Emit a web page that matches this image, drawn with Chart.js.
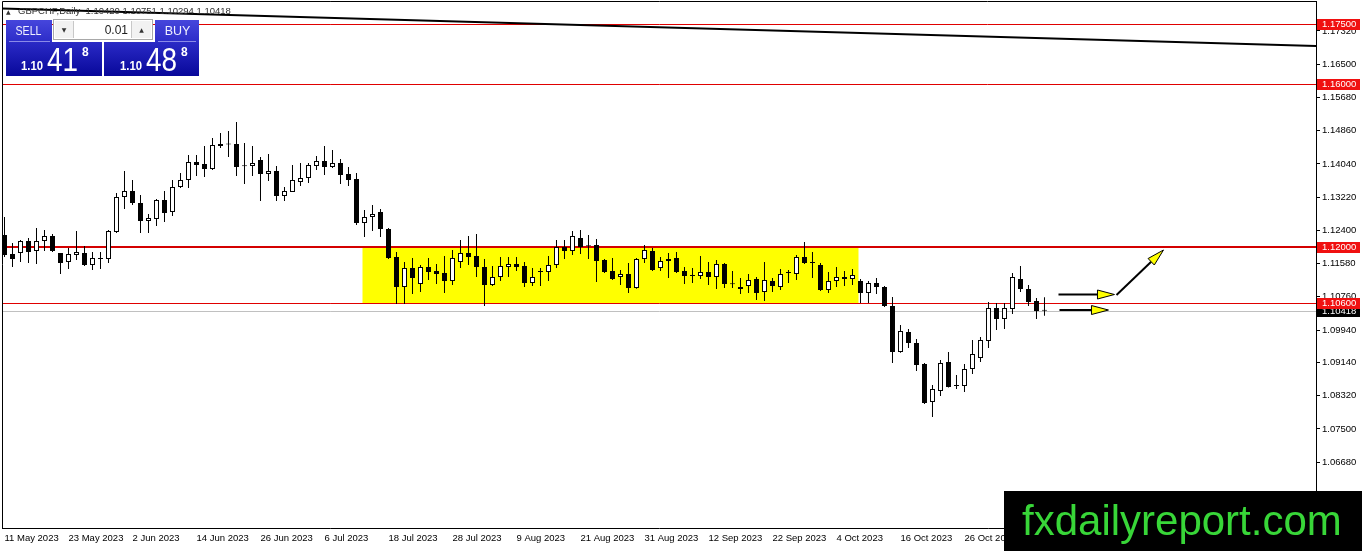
<!DOCTYPE html>
<html><head><meta charset="utf-8">
<script src="https://cdn.jsdelivr.net/npm/chart.js@4.4.0/dist/chart.umd.min.js"></script>
<style>html,body{margin:0;padding:0;background:#fff;overflow:hidden}#wrap{position:relative;width:1362px;height:551px}canvas{display:block}</style>
</head><body><div id="wrap"><canvas id="c" width="1362" height="551"></canvas></div>
<script>
const symbolTitle = 'GBPCHF,Daily';
const startDate = '2023-05-11';
const tickLabels = ['11 May 2023','23 May 2023','2 Jun 2023','14 Jun 2023','26 Jun 2023','6 Jul 2023','18 Jul 2023','28 Jul 2023','9 Aug 2023','21 Aug 2023','31 Aug 2023','12 Sep 2023','22 Sep 2023','4 Oct 2023','16 Oct 2023','26 Oct 2023'];
const priceTicks = [1.1732,1.165,1.1568,1.1486,1.1404,1.1322,1.124,1.1158,1.1076,1.0994,1.0914,1.0832,1.075,1.0668];
const opens = [1.12286,1.11816,1.11841,1.12137,1.11890,1.12137,1.12261,1.11841,1.11619,1.11792,
1.11841,1.11545,1.11693,1.11693,1.12360,1.13223,1.13371,1.13075,1.12631,1.12680,
1.13149,1.12853,1.13470,1.13643,1.14088,1.14038,1.13915,1.14482,1.14531,1.14531,
1.13989,1.13989,1.14137,1.13791,1.13865,1.13248,1.13347,1.13594,1.13693,1.13989,
1.14112,1.13964,1.14063,1.13791,1.13668,1.12582,1.12729,1.12853,1.12434,1.11742,
1.11002,1.11471,1.11076,1.11495,1.11397,1.11348,1.11150,1.11619,1.11841,1.11767,
1.11495,1.11051,1.11249,1.11495,1.11569,1.11520,1.11100,1.11373,1.11373,1.11545,
1.11989,1.11890,1.12212,1.12014,1.12038,1.11668,1.11397,1.11249,1.11323,1.10977,
1.11693,1.11890,1.11471,1.11644,1.11718,1.11397,1.11298,1.11274,1.11373,1.11249,
1.11569,1.11076,1.10953,1.11026,1.11200,1.10879,1.11150,1.11002,1.11348,1.11323,
1.11742,1.11619,1.11545,1.10928,1.11150,1.11249,1.11200,1.11150,1.10854,1.11100,
1.11002,1.10533,1.09398,1.09892,1.09620,1.09101,1.08164,1.08435,1.09151,1.08558,
1.08558,1.08978,1.09249,1.09669,1.10483,1.10212,1.10459,1.11200,1.10953,1.10656,
1.10420];
const highs = [1.12729,1.12088,1.12162,1.12212,1.12459,1.12409,1.12310,1.11841,1.11965,1.12384,
1.12014,1.11866,1.11866,1.12409,1.13322,1.13865,1.13643,1.13273,1.12803,1.13174,
1.13371,1.13643,1.13816,1.14260,1.14260,1.14482,1.14680,1.14803,1.14852,1.15075,
1.14556,1.14482,1.14210,1.14284,1.13989,1.13470,1.14014,1.14063,1.14063,1.14235,
1.14482,1.14383,1.14161,1.13964,1.13816,1.12902,1.13026,1.12927,1.12459,1.11866,
1.11619,1.11718,1.11545,1.11718,1.11569,1.11767,1.11915,1.12162,1.12261,1.12310,
1.11693,1.11520,1.11742,1.11742,1.11742,1.11619,1.11471,1.11471,1.11767,1.12162,
1.12162,1.12384,1.12409,1.12286,1.12187,1.11693,1.11718,1.11422,1.11594,1.11718,
1.12038,1.11965,1.11742,1.11841,1.11866,1.11495,1.11471,1.11767,1.11619,1.11668,
1.11594,1.11397,1.11225,1.11323,1.11249,1.11619,1.11225,1.11446,1.11422,1.11792,
1.12113,1.11866,1.11594,1.11373,1.11495,1.11397,1.11446,1.11200,1.11150,1.11225,
1.11026,1.10755,1.10064,1.09966,1.09719,1.09126,1.08583,1.09200,1.09397,1.08830,
1.09101,1.09694,1.09768,1.10632,1.10607,1.10607,1.11348,1.11520,1.11051,1.10730,
1.10751];
const lows = [1.11742,1.11495,1.11619,1.11594,1.11569,1.11890,1.11866,1.11323,1.11446,1.11668,
1.11520,1.11422,1.11446,1.11594,1.12335,1.12927,1.13026,1.12335,1.12335,1.12508,
1.12607,1.12754,1.13445,1.13445,1.13742,1.13717,1.13890,1.14433,1.14210,1.13742,
1.13544,1.13742,1.13124,1.13618,1.13124,1.13124,1.13347,1.13495,1.13569,1.13890,
1.13767,1.13939,1.13544,1.13495,1.12533,1.12236,1.12384,1.12236,1.11693,1.10582,
1.10582,1.10829,1.10879,1.11175,1.11076,1.10854,1.11051,1.11471,1.11545,1.11249,
1.10533,1.11026,1.11150,1.11249,1.11397,1.11002,1.11026,1.11026,1.11150,1.11471,
1.11693,1.11792,1.11816,1.11693,1.11126,1.11348,1.11175,1.11051,1.10854,1.10960,
1.11594,1.11397,1.11397,1.11225,1.11348,1.11076,1.11100,1.11200,1.11051,1.10953,
1.10977,1.10977,1.10829,1.10854,1.10681,1.10656,1.10879,1.10928,1.11100,1.11175,
1.11569,1.11225,1.10903,1.10854,1.11002,1.11026,1.11051,1.10607,1.10607,1.10829,
1.10508,1.09126,1.09380,1.09497,1.08929,1.08114,1.07793,1.08312,1.08520,1.08484,
1.08411,1.08854,1.09151,1.09496,1.09941,1.09966,1.10335,1.10879,1.10533,1.10212,
1.10294];
const closes = [1.11792,1.11693,1.12137,1.11866,1.12137,1.12261,1.11890,1.11594,1.11816,1.11866,
1.11545,1.11718,1.11700,1.12384,1.13223,1.13371,1.13075,1.12631,1.12705,1.13149,
1.12828,1.13470,1.13643,1.14088,1.14014,1.13915,1.14507,1.14531,1.14520,1.13964,
1.13980,1.14063,1.13791,1.13865,1.13248,1.13371,1.13643,1.13693,1.14014,1.14112,
1.13964,1.14063,1.13767,1.13643,1.12582,1.12729,1.12803,1.12434,1.11718,1.11002,
1.11471,1.11225,1.11495,1.11373,1.11323,1.11150,1.11718,1.11841,1.11742,1.11495,
1.11051,1.11249,1.11520,1.11569,1.11495,1.11100,1.11249,1.11380,1.11545,1.11989,
1.11890,1.12261,1.11989,1.12005,1.11644,1.11373,1.11200,1.11323,1.10977,1.11693,
1.11915,1.11422,1.11644,1.11693,1.11373,1.11274,1.11274,1.11373,1.11249,1.11569,
1.11076,1.11070,1.11002,1.11175,1.10854,1.11175,1.11026,1.11323,1.11355,1.11742,
1.11594,1.11594,1.10928,1.11150,1.11249,1.11200,1.11298,1.10854,1.11100,1.11002,
1.10533,1.09398,1.09916,1.09620,1.09077,1.08139,1.08484,1.09126,1.08534,1.08565,
1.08978,1.09348,1.09694,1.10483,1.10212,1.10483,1.11249,1.10953,1.10632,1.10409,
1.10418];
const levelPrices = [1.175, 1.16, 1.12, 1.106];
const zone = {fromBar: 44.75, toBar: 106.75, top: 1.12, bottom: 1.106};
const trend = {bar0: -0.5, price0: 1.17875, bar1: 164, price1: 1.16947};
const arrows = [
  {bar0: 131.75, p0: 1.10817, bar1: 138.75, p1: 1.10817},
  {bar0: 139, p0: 1.10805, bar1: 144.875, p1: 1.11915},
  {bar0: 131.875, p0: 1.10434, bar1: 138, p1: 1.10434}
];
const sellPrice = {big: '1.10', pips: '41', frac: '8'};
const buyPrice = {big: '1.10', pips: '48', frac: '8'};
const lotSize = '0.01';
const watermark = 'fxdailyreport.com';

// categories: trading days from start
const months = ['Jan','Feb','Mar','Apr','May','Jun','Jul','Aug','Sep','Oct','Nov','Dec'];
const categories = [];
{
  const d = new Date(startDate + 'T12:00:00');
  while (categories.length < closes.length) {
    const wd = d.getDay();
    if (wd !== 0 && wd !== 6) categories.push(d.getDate() + ' ' + months[d.getMonth()] + ' ' + d.getFullYear());
    d.setDate(d.getDate() + 1);
  }
}
const tickIndex = tickLabels.map(l => categories.indexOf(l));

const wickData = closes.map((c, i) => ({x: i, y: [lows[i], highs[i]]}));
const bodyData = closes.map((c, i) => ({x: i, y: [opens[i], c]}));
const bodyFill = closes.map((c, i) => c >= opens[i] ? '#ffffff' : '#000000');

const FONT = '"Liberation Sans", Arial, sans-serif';

const bgPlugin = {
  id: 'bg',
  beforeDatasetsDraw(chart) {
    const {ctx, chartArea: a, scales: {x, y}} = chart;
    ctx.save();
    ctx.beginPath(); ctx.rect(a.left, a.top, a.right - a.left, a.bottom - a.top); ctx.clip();
    const zx0 = x.getPixelForValue(zone.fromBar), zx1 = x.getPixelForValue(zone.toBar);
    const zy0 = y.getPixelForValue(zone.top), zy1 = y.getPixelForValue(zone.bottom);
    ctx.fillStyle = '#ffff00';
    ctx.fillRect(zx0, zy0, zx1 - zx0, zy1 - zy0);
    const cy = Math.round(y.getPixelForValue(closes[closes.length - 1])) + 0.5;
    ctx.strokeStyle = '#c0c0c0'; ctx.lineWidth = 1;
    ctx.beginPath(); ctx.moveTo(a.left, cy); ctx.lineTo(a.right, cy); ctx.stroke();
    levelPrices.forEach((p, i) => {
      const thick = (i === 2);
      const py = thick ? Math.round(y.getPixelForValue(p)) : Math.round(y.getPixelForValue(p)) + 0.5;
      ctx.strokeStyle = thick ? '#d40000' : '#e00000';
      ctx.lineWidth = thick ? 2 : 1;
      ctx.beginPath(); ctx.moveTo(a.left, py); ctx.lineTo(a.right, py); ctx.stroke();
    });
    ctx.strokeStyle = '#000'; ctx.lineWidth = 2;
    ctx.beginPath();
    ctx.moveTo(x.getPixelForValue(trend.bar0), y.getPixelForValue(trend.price0));
    ctx.lineTo(x.getPixelForValue(trend.bar1), y.getPixelForValue(trend.price1));
    ctx.stroke();
    ctx.restore();
  },
  afterDatasetsDraw(chart) {
    const {ctx, scales: {x, y}} = chart;
    ctx.save();
    arrows.forEach(ar => {
      const x0 = x.getPixelForValue(ar.bar0), y0 = y.getPixelForValue(ar.p0);
      const x1 = x.getPixelForValue(ar.bar1), y1 = y.getPixelForValue(ar.p1);
      const ang = Math.atan2(y1 - y0, x1 - x0);
      const hl = 17, hw = 4.5;
      const bx = x1 - hl * Math.cos(ang), by = y1 - hl * Math.sin(ang);
      ctx.strokeStyle = '#000'; ctx.lineWidth = 2;
      ctx.beginPath(); ctx.moveTo(x0, y0); ctx.lineTo(bx, by); ctx.stroke();
      ctx.beginPath();
      ctx.moveTo(x1, y1);
      ctx.lineTo(bx + hw * Math.sin(ang), by - hw * Math.cos(ang));
      ctx.lineTo(bx - hw * Math.sin(ang), by + hw * Math.cos(ang));
      ctx.closePath();
      ctx.fillStyle = '#ffff00'; ctx.fill();
      ctx.lineWidth = 1; ctx.stroke();
    });
    ctx.restore();
  },
  afterDraw(chart) {
    const {ctx, chartArea: a, scales: {y}} = chart;
    ctx.save();
    ctx.strokeStyle = '#000'; ctx.lineWidth = 1;
    ctx.beginPath();
    ctx.moveTo(a.left, a.bottom); ctx.lineTo(a.left, a.top + 0.5); ctx.lineTo(a.right, a.top + 0.5);
    ctx.stroke();
    ctx.font = '9.5px ' + FONT; ctx.textBaseline = 'middle'; ctx.textAlign = 'left';
    const lx = a.right + 1;
    const drawBox = (p, bg, fg) => {
      const py = y.getPixelForValue(p);
      ctx.fillStyle = bg; ctx.fillRect(lx, Math.round(py) - 5, 43, 11);
      ctx.fillStyle = fg; ctx.fillText(p.toFixed(5), a.right + 6, Math.round(py) + 0.5);
    };
    drawBox(closes[closes.length - 1], '#000000', '#ffffff');
    levelPrices.forEach(p => drawBox(p, '#f01010', '#ffffff'));

    ctx.fillStyle = '#333'; ctx.font = '6px "DejaVu Sans"'; ctx.textBaseline = 'alphabetic';
    ctx.fillText('▲', 6, 14);
    ctx.font = '9.5px ' + FONT; ctx.fillStyle = '#303030';
    ctx.fillText(symbolTitle + '  ' + [opens, highs, lows, closes].map(s => s[s.length - 1].toFixed(5)).join(' '), 18, 14);

    const grad = (y0, y1, c0, c1) => { const g = ctx.createLinearGradient(0, y0, 0, y1); g.addColorStop(0, c0); g.addColorStop(1, c1); return g; };
    ctx.fillStyle = grad(20, 42, '#4646dc', '#2c2cc8');
    ctx.fillRect(6, 20, 46, 22); ctx.fillRect(155, 20, 44, 22);
    ctx.fillStyle = grad(42, 76, '#2a2ac6', '#08089a');
    ctx.fillRect(6, 42, 96, 34); ctx.fillRect(104, 42, 95, 34);
    ctx.strokeStyle = '#8a8ae8'; ctx.lineWidth = 1;
    ctx.beginPath(); ctx.moveTo(9, 41.5); ctx.lineTo(50, 41.5); ctx.moveTo(158, 41.5); ctx.lineTo(196, 41.5); ctx.stroke();
    ctx.fillStyle = '#fff'; ctx.fillRect(53, 19, 100, 21);
    ctx.strokeStyle = '#a8a8a8'; ctx.strokeRect(53.5, 19.5, 99, 20);
    ctx.fillStyle = '#f2f2f2'; ctx.fillRect(55, 21, 18, 17); ctx.fillRect(132, 21, 19, 17);
    ctx.strokeStyle = '#c8c8c8';
    ctx.beginPath(); ctx.moveTo(73.5, 21); ctx.lineTo(73.5, 38); ctx.moveTo(131.5, 21); ctx.lineTo(131.5, 38); ctx.stroke();
    ctx.fillStyle = '#333'; ctx.font = '6px "DejaVu Sans"'; ctx.textAlign = 'center'; ctx.textBaseline = 'middle';
    ctx.fillText('▼', 64, 30); ctx.fillText('▲', 141.5, 30);
    ctx.fillStyle = '#202020'; ctx.font = '12px ' + FONT; ctx.textAlign = 'right';
    ctx.fillText(lotSize, 128, 30.5);
    ctx.fillStyle = '#f0f0ff'; ctx.font = '12.5px ' + FONT; ctx.textAlign = 'center';
    ctx.fillText('SELL', 28.5, 31.5, 26); ctx.fillText('BUY', 177.5, 31.5, 30);
    ctx.fillStyle = '#ffffff'; ctx.textAlign = 'left'; ctx.textBaseline = 'alphabetic';
    const drawPrice = (pr, x0) => {
      ctx.font = 'bold 12px ' + FONT; ctx.fillText(pr.big, x0, 70, 22);
      ctx.font = '33px ' + FONT; ctx.fillText(pr.pips, x0 + 26, 71, 31);
      ctx.font = 'bold 12px ' + FONT; ctx.fillText(pr.frac, x0 + 61, 56);
    };
    drawPrice(sellPrice, 21);
    drawPrice(buyPrice, 120);

    ctx.fillStyle = '#000'; ctx.fillRect(1004, 491, 358, 60);
    ctx.fillStyle = '#38d638'; ctx.font = '42px ' + FONT; ctx.textAlign = 'left';
    ctx.fillText(watermark, 1022, 535, 324);
    ctx.restore();
  }
};

new Chart(document.getElementById('c'), {
  type: 'bar',
  data: {
    datasets: [
      {label: 'body', data: bodyData, backgroundColor: bodyFill, borderColor: '#000', borderWidth: 1,
       barThickness: 5, minBarLength: 1, borderSkipped: false, inflateAmount: 0, grouped: false, order: 1},
      {label: 'wick', data: wickData, backgroundColor: '#000', borderWidth: 0,
       barThickness: 1, borderSkipped: false, inflateAmount: 0, grouped: false, order: 2}
    ]
  },
  options: {
    responsive: false, animation: false, devicePixelRatio: 1,
    layout: {padding: {left: 2.5, top: 1, right: 0, bottom: 0}},
    plugins: {legend: {display: false}, tooltip: {enabled: false}},
    scales: {
      x: {
        type: 'linear', min: -0.25, max: 163.94, offset: false,
        afterBuildTicks: s => { s.ticks = tickIndex.map(v => ({value: v})); },
        afterFit: s => { s.height = 23; s.paddingLeft = 0; s.paddingRight = 0; },
        ticks: {autoSkip: false, maxRotation: 0, align: 'start', padding: 2, color: '#000',
                font: {family: FONT, size: 9.5}, callback: v => categories[v]},
        grid: {display: true, drawOnChartArea: false, drawTicks: true, tickLength: 3, color: 'rgba(0,0,0,0)'},
        border: {display: true, color: '#000', width: 1}
      },
      y: {
        type: 'linear', position: 'right', min: 1.05055, max: 1.18060,
        afterBuildTicks: s => { s.ticks = priceTicks.map(v => ({value: v})); },
        afterFit: s => { s.width = 46; s.paddingTop = 0; s.paddingBottom = 0; },
        ticks: {autoSkip: false, padding: 2, color: '#000', font: {family: FONT, size: 9.5},
                callback: v => Number(v).toFixed(5)},
        grid: {display: true, drawOnChartArea: false, drawTicks: true, tickLength: 4, color: '#000'},
        border: {display: true, color: '#000', width: 1}
      }
    }
  },
  plugins: [bgPlugin]
});
</script>
</body></html>
